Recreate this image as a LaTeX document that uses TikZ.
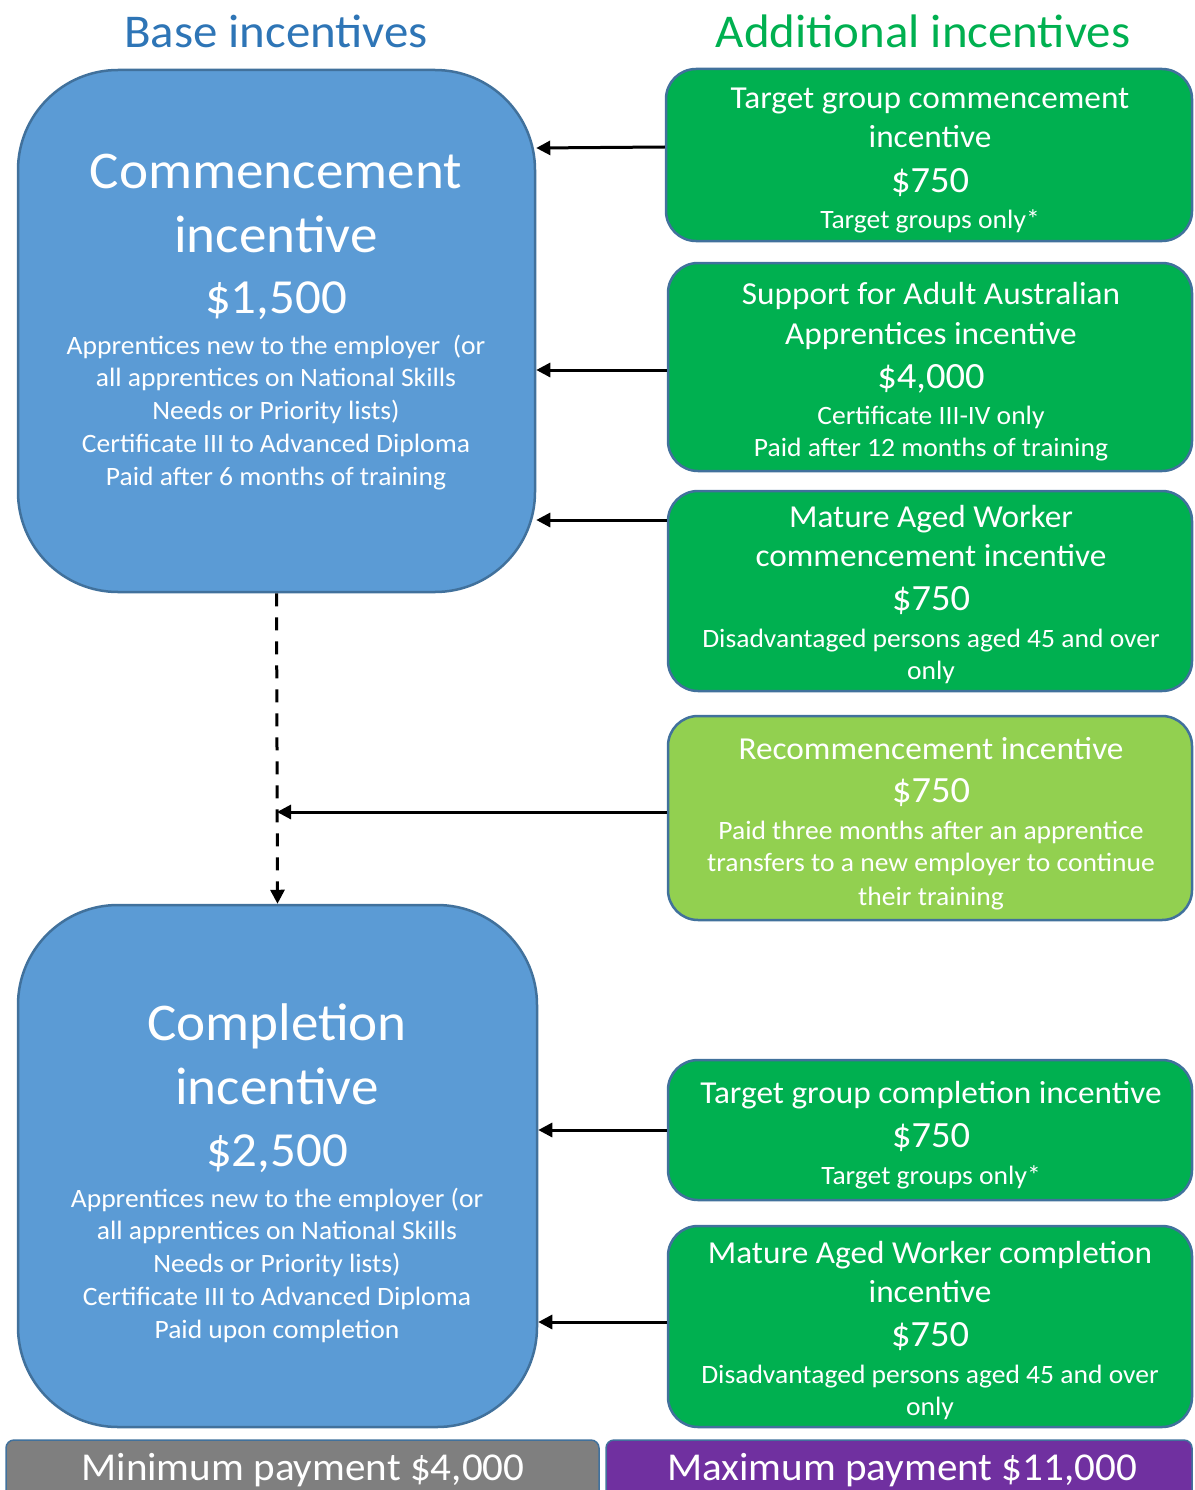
\documentclass[tikz,border=0pt]{standalone}
\usepackage{fontspec}
\setmainfont{Carlito}[FakeStretch=1.04]
\usetikzlibrary{arrows.meta}
\definecolor{baseblue}{HTML}{5B9BD5}
\definecolor{edgeblue}{HTML}{41719C}
\definecolor{addgreen}{HTML}{00B050}
\definecolor{litegreen}{HTML}{92D050}
\definecolor{headblue}{HTML}{2E75B6}
\definecolor{mingray}{HTML}{7F7F7F}
\definecolor{maxpurple}{HTML}{7030A0}

\tikzset{
  basebox/.style={draw=edgeblue, line width=2.5pt, fill=baseblue, rounded corners=100pt, inner sep=0pt, minimum width=517pt, minimum height=522pt},
  addbox/.style={draw=edgeblue, line width=2.5pt, fill=addgreen, rounded corners=30pt, inner sep=0pt, minimum width=524pt},
  paybox/.style={draw=edgeblue, line width=1.5pt, rounded corners=8pt, inner sep=0pt, minimum height=62pt},
  headtxt/.style={inner sep=0pt, yshift=-4pt, font=\fontsize{47}{56}\selectfont, text height=30pt, text depth=6pt},
  bigtxt/.style={inner sep=0pt, yshift=-3pt, text=white, font=\fontsize{53}{64}\selectfont, text height=34pt, text depth=7pt},
  bigsum/.style={bigtxt, font=\fontsize{49}{60}\selectfont},
  smltxt/.style={inner sep=0pt, yshift=-3pt, text=white, font=\fontsize{26.5}{32}\selectfont, text height=17pt, text depth=3.5pt},
  gtxt/.style={inner sep=0pt, yshift=-3pt, text=white, font=\fontsize{32}{38}\selectfont, text height=20pt, text depth=4pt},
  amount/.style={inner sep=0pt, yshift=-3pt, text=white, font=\fontsize{37}{44}\selectfont, text height=24pt, text depth=5pt},
  paytxt/.style={inner sep=0pt, yshift=-2pt, text=white, font=\fontsize{39.5}{48}\selectfont, text height=26pt, text depth=5pt},
  feed/.style={line width=3pt, -{Triangle[length=14pt, width=14pt]}},
}

\begin{document}
\begin{tikzpicture}[x=1pt, y=-1pt]
\useasboundingbox (0,0) rectangle (1194,1490);

% headings
\node[headtxt, text=headblue] (basehead) at (276,32) {Base incentives};
\node[headtxt, text=addgreen] (addhead) at (923,32) {Additional incentives};

% base incentives
\node[basebox] (comm) at (276.5,331) {};
\node[bigtxt] (comm1) at (276,172) {Commencement};
\node[bigtxt] (comm2) at (276,236) {incentive};
\node[bigsum] (comm3) at (276,297) {\$1,500};
\node[smltxt] (comm4) at (276,345) {Apprentices new to the employer~~(or};
\node[smltxt] (comm5) at (276,377) {all apprentices on National Skills};
\node[smltxt] (comm6) at (276,410) {Needs or Priority lists)};
\node[smltxt] (comm7) at (276,443) {Certificate III to Advanced Diploma};
\node[smltxt] (comm8) at (276,476) {Paid after 6 months of training};

\node[basebox, minimum width=519pt] (comp) at (277.5,1166) {};
\node[bigtxt] (comp1) at (277,1024) {Completion};
\node[bigtxt] (comp2) at (277,1088) {incentive};
\node[bigsum] (comp3) at (277,1150) {\$2,500};
\node[smltxt] (comp4) at (277,1198) {Apprentices new to the employer (or};
\node[smltxt] (comp5) at (277,1230) {all apprentices on National Skills};
\node[smltxt] (comp6) at (277,1263) {Needs or Priority lists)};
\node[smltxt] (comp7) at (277,1296) {Certificate III to Advanced Diploma};
\node[smltxt] (comp8) at (277,1329) {Paid upon completion};

% additional incentives
\node[addbox, minimum width=526pt, minimum height=172pt] (tgc) at (929,155) {};
\node[gtxt] (tgc1) at (930,98) {Target group commencement};
\node[gtxt] (tgc2) at (930,137) {incentive};
\node[amount] (tgc3) at (930,180) {\$750};
\node[smltxt] (tgc4) at (930,219) {Target groups only*};

\node[addbox, minimum height=208pt] (saa) at (930,367) {};
\node[gtxt] (saa1) at (931,293) {Support for Adult Australian};
\node[gtxt] (saa2) at (931,333) {Apprentices incentive};
\node[amount] (saa3) at (931,376) {\$4,000};
\node[smltxt] (saa4) at (931,415) {Certificate III-IV only};
\node[smltxt] (saa5) at (931,447) {Paid after 12 months of training};

\node[addbox, minimum height=200pt] (mawc) at (930,591) {};
\node[gtxt] (mawc1) at (931,516) {Mature Aged Worker};
\node[gtxt] (mawc2) at (931,555) {commencement incentive};
\node[amount] (mawc3) at (931,598) {\$750};
\node[smltxt] (mawc4) at (931,638) {Disadvantaged persons aged 45 and over};
\node[smltxt] (mawc5) at (931,670) {only};

\node[addbox, fill=litegreen, minimum height=204pt] (rec) at (930,818) {};
\node[gtxt] (rec1) at (931,748) {Recommencement incentive};
\node[amount] (rec2) at (931,790) {\$750};
\node[smltxt] (rec3) at (931,830) {Paid three months after an apprentice};
\node[smltxt] (rec4) at (931,862) {transfers to a new employer to continue};
\node[smltxt] (rec5) at (931,896) {their training};

\node[addbox, minimum height=140pt] (tgp) at (930,1130) {};
\node[gtxt] (tgp1) at (931,1092) {Target group completion incentive};
\node[amount] (tgp2) at (931,1135) {\$750};
\node[smltxt] (tgp3) at (931,1175) {Target groups only*};

\node[addbox, minimum height=201pt] (mawp) at (930,1326.5) {};
\node[gtxt] (mawp1) at (930,1252) {Mature Aged Worker completion};
\node[gtxt] (mawp2) at (930,1291) {incentive};
\node[amount] (mawp3) at (930,1334) {\$750};
\node[smltxt] (mawp4) at (930,1374) {Disadvantaged persons aged 45 and over};
\node[smltxt] (mawp5) at (930,1406) {only};

% payment bars
\node[paybox, fill=mingray, minimum width=593pt] (minpay) at (302.5,1471) {};
\node[paybox, fill=maxpurple, minimum width=586pt] (maxpay) at (899,1471) {};
\node[paytxt] (minpay1) at (303,1468) {Minimum payment \$4,000};
\node[paytxt] (maxpay1) at (902,1468) {Maximum payment \$11,000};

% connectors
\coordinate (join) at (277,812);
\draw[feed, dash pattern=on 13pt off 11pt] (comm.south) -- (comp.north);
\draw[feed] (tgc.west |- 0,147) -- (comm.east |- 0,148);
\draw[feed] (saa.west |- 0,370) -- (comm.east |- 0,370);
\draw[feed] (mawc.west |- 0,520) -- (comm.east |- 0,520);
\draw[feed] (rec.west |- join) -- (join);
\draw[feed] (tgp.west |- 0,1130) -- (comp.east |- 0,1130);
\draw[feed] (mawp.west |- 0,1322) -- (comp.east |- 0,1322);
\end{tikzpicture}
\end{document}
